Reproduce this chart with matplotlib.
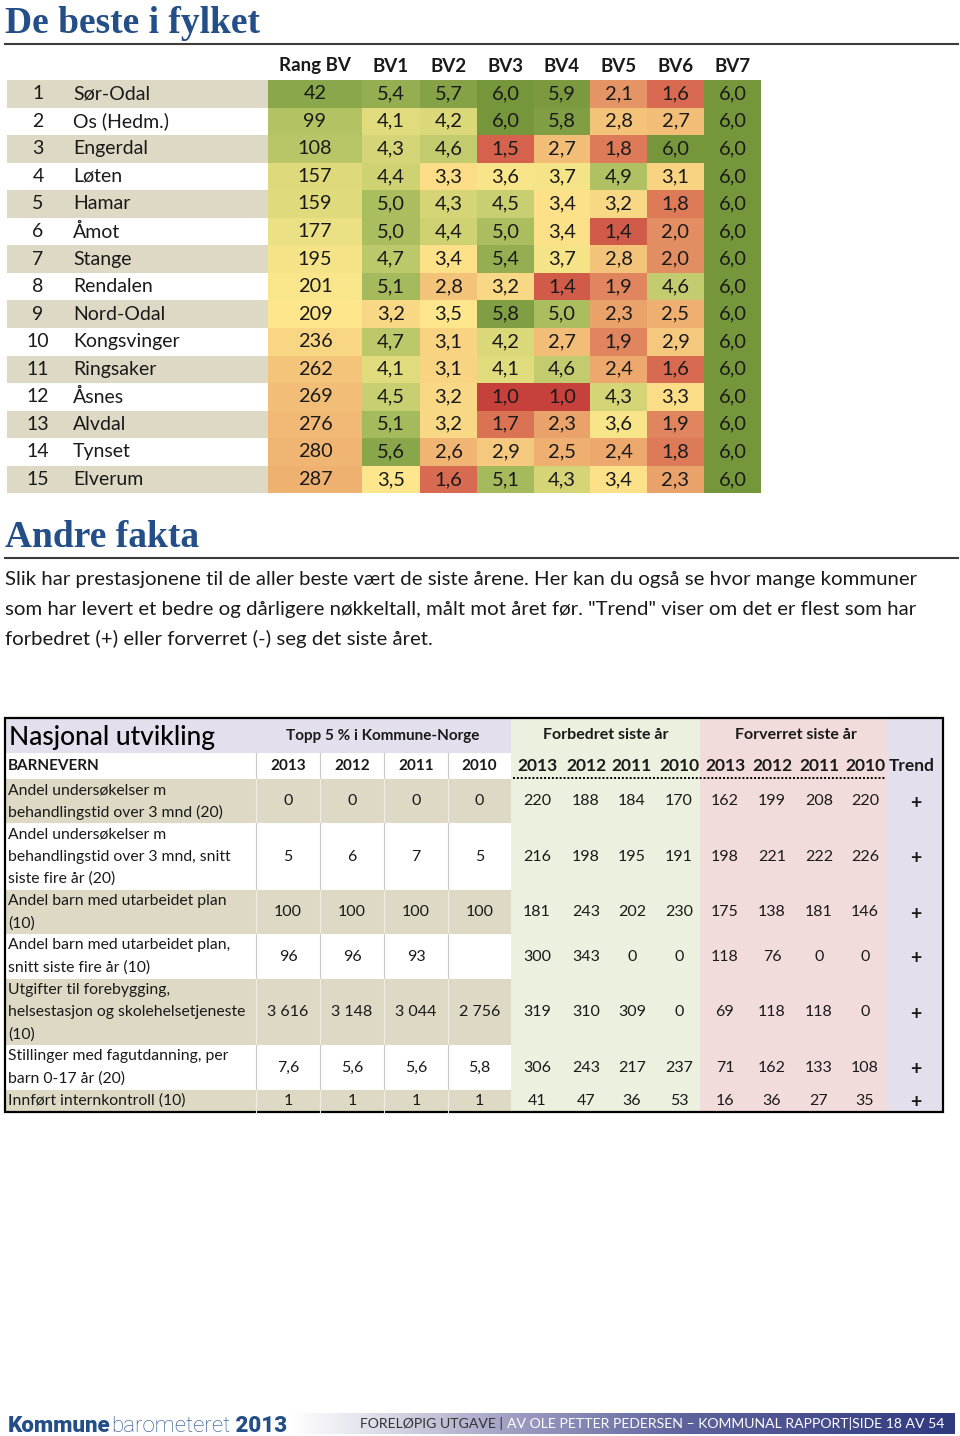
import matplotlib
matplotlib.use("Agg")
import matplotlib.pyplot as plt
from matplotlib.patches import Rectangle
from matplotlib.colors import LinearSegmentedColormap
import numpy as np

# ---------------- data ----------------
plasser = list(range(1, 16))
kommuner = ["Sør-Odal", "Os (Hedm.)", "Engerdal", "Løten", "Hamar", "Åmot", "Stange",
            "Rendalen", "Nord-Odal", "Kongsvinger", "Ringsaker", "Åsnes", "Alvdal",
            "Tynset", "Elverum"]
kolonner = ["Rang BV", "BV1", "BV2", "BV3", "BV4", "BV5", "BV6", "BV7"]
rang_bv = [42, 99, 108, 157, 159, 177, 195, 201, 209, 236, 262, 269, 276, 280, 287]
bv1 = [5.4, 4.1, 4.3, 4.4, 5.0, 5.0, 4.7, 5.1, 3.2, 4.7, 4.1, 4.5, 5.1, 5.6, 3.5]
bv2 = [5.7, 4.2, 4.6, 3.3, 4.3, 4.4, 3.4, 2.8, 3.5, 3.1, 3.1, 3.2, 3.2, 2.6, 1.6]
bv3 = [6.0, 6.0, 1.5, 3.6, 4.5, 5.0, 5.4, 3.2, 5.8, 4.2, 4.1, 1.0, 1.7, 2.9, 5.1]
bv4 = [5.9, 5.8, 2.7, 3.7, 3.4, 3.4, 3.7, 1.4, 5.0, 2.7, 4.6, 1.0, 2.3, 2.5, 4.3]
bv5 = [2.1, 2.8, 1.8, 4.9, 3.2, 1.4, 2.8, 1.9, 2.3, 1.9, 2.4, 4.3, 3.6, 2.4, 3.4]
bv6 = [1.6, 2.7, 6.0, 3.1, 1.8, 2.0, 2.0, 4.6, 2.5, 2.9, 1.6, 3.3, 1.9, 1.8, 2.3]
bv7 = [6.0, 6.0, 6.0, 6.0, 6.0, 6.0, 6.0, 6.0, 6.0, 6.0, 6.0, 6.0, 6.0, 6.0, 6.0]

intro = ["Slik har prestasjonene til de aller beste vært de siste årene. Her kan du også se hvor mange kommuner",
         "som har levert et bedre og dårligere nøkkeltall, målt mot året før. \"Trend\" viser om det er flest som har",
         "forbedret (+) eller forverret (-) seg det siste året."]

aar = ["2013", "2012", "2011", "2010"]
indikatorer = [
    ["Andel undersøkelser m", "behandlingstid over 3 mnd (20)"],
    ["Andel undersøkelser m", "behandlingstid over 3 mnd, snitt", "siste fire år (20)"],
    ["Andel barn med utarbeidet plan", "(10)"],
    ["Andel barn med utarbeidet plan,", "snitt siste fire år (10)"],
    ["Utgifter til forebygging,", "helsestasjon og skolehelsetjeneste", "(10)"],
    ["Stillinger med fagutdanning, per", "barn 0-17 år (20)"],
    ["Innført internkontroll (10)"],
]
topp5 = [["0", "0", "0", "0"], ["5", "6", "7", "5"], ["100", "100", "100", "100"],
         ["96", "96", "93", ""], ["3 616", "3 148", "3 044", "2 756"],
         ["7,6", "5,6", "5,6", "5,8"], ["1", "1", "1", "1"]]
forbedret = [[220, 188, 184, 170], [216, 198, 195, 191], [181, 243, 202, 230], [300, 343, 0, 0],
             [319, 310, 309, 0], [306, 243, 217, 237], [41, 47, 36, 53]]
forverret = [[162, 199, 208, 220], [198, 221, 222, 226], [175, 138, 181, 146], [118, 76, 0, 0],
             [69, 118, 118, 0], [71, 162, 133, 108], [16, 36, 27, 35]]
trend = ["+", "+", "+", "+", "+", "+", "+"]

# ---------------- style ----------------
SANS = ["Lato", "DejaVu Sans"]
SERIF = ["Liberation Serif", "DejaVu Serif"]
NAVY = "#234E87"
TAN = "#DDD9C4"
LAV = "#E4DFEC"
GRN = "#EBF1DE"
RED = "#F2DCDB"
TXT = "#1a1a1a"

cmap = LinearSegmentedColormap.from_list("bv", [
    (0.0, "#C6403C"), (0.1, "#D4634C"), (0.2, "#E38D62"), (0.3, "#EEB070"),
    (0.4, "#F7CF80"), (0.5, "#FDE68C"), (0.6, "#E6DE80"), (0.7, "#C9CF70"),
    (0.8, "#AABE60"), (0.9, "#90AB4E"), (1.0, "#76963C")])


def score_colour(v):
    return cmap((v - 1.0) / 5.0)


def rank_colour(r):
    # national rank: 1 best ... ~400 worst -> same scale as the scores
    return score_colour(np.clip(6.1 - 0.0125 * r, 1, 6))


fig = plt.figure(figsize=(9.6, 14.36), dpi=100)
ax = fig.add_axes([0, 0, 1, 1])
ax.set_xlim(0, 960)
ax.set_ylim(1436, 0)
ax.axis("off")

# ---------------- title 1 ----------------
ax.text(5, 33, "De beste i fylket", family=SERIF, weight="bold", size=27,
        color=NAVY, va="baseline", ha="left")
ax.plot([5, 958], [44, 44], color="#3c3c3c", lw=1.5)

# ---------------- top table ----------------
col_edges = [268, 362, 420, 477, 534, 590, 647, 704, 761]
row_top = 80.0
row_h = 27.55
for j, name in enumerate(kolonner):
    xc = (col_edges[j] + col_edges[j + 1]) / 2
    ax.text(xc, 66, name, family=SANS, weight="bold", size=13.5, color=TXT,
            ha="center", va="center")

series = [bv1, bv2, bv3, bv4, bv5, bv6, bv7]
for i, (p, k) in enumerate(zip(plasser, kommuner)):
    y0 = row_top + i * row_h
    yc = y0 + row_h / 2
    if i % 2 == 0:
        ax.add_patch(Rectangle((7, y0), 261, row_h, color=TAN, lw=0))
    ax.text(38, yc, str(p), family=SANS, size=14, color=TXT, ha="center", va="center")
    ax.text(73, yc, k, family=SANS, size=14, color=TXT, ha="left", va="center")
    # rank column
    ax.add_patch(Rectangle((col_edges[0], y0), col_edges[1] - col_edges[0], row_h,
                           color=rank_colour(rang_bv[i]), lw=0))
    ax.text((col_edges[0] + col_edges[1]) / 2, yc, str(rang_bv[i]), family=SANS,
            size=14.3, color=TXT, ha="center", va="center")
    for j, s in enumerate(series):
        x0, x1 = col_edges[j + 1], col_edges[j + 2]
        ax.add_patch(Rectangle((x0, y0), x1 - x0, row_h, color=score_colour(s[i]), lw=0))
        ax.text((x0 + x1) / 2, yc, f"{s[i]:.1f}".replace(".", ","), family=SANS,
                size=14.5, color=TXT, ha="center", va="center")

# ---------------- title 2 ----------------
ax.text(5, 547, "Andre fakta", family=SERIF, weight="bold", size=27,
        color=NAVY, va="baseline", ha="left")
ax.plot([5, 958], [558, 558], color="#3c3c3c", lw=1.5)
for i, line in enumerate(intro):
    ax.text(5, 580 + i * 29.5, line, family=SANS, size=14.7, color=TXT,
            ha="left", va="center")

# ---------------- bottom table ----------------
L, R = 5, 943
T, B = 718, 1112
H1 = 753
H2 = 779
x_split = 511
grn_x = [x_split, 700]
red_x = [700, 887]
trend_x = [887, R]

ax.add_patch(Rectangle((L, T), x_split - L, H1 - T, color=LAV, lw=0))
ax.add_patch(Rectangle((grn_x[0], T), grn_x[1] - grn_x[0], B - T, color=GRN, lw=0))
ax.add_patch(Rectangle((red_x[0], T), red_x[1] - red_x[0], B - T, color=RED, lw=0))
ax.add_patch(Rectangle((trend_x[0], T), trend_x[1] - trend_x[0], B - T, color=LAV, lw=0))

left_cols = [256, 320, 384, 448, 511]
left_centres = [(left_cols[k] + left_cols[k + 1]) / 2 for k in range(4)]
grn_centres = [537, 586, 632, 679]
red_centres = [725, 772, 819, 865]
trend_c = 916

ax.text(9, 737, "Nasjonal utvikling", family=SANS, weight="medium", size=19, color="black",
        ha="left", va="center")
ax.text(383, 736, "Topp 5 % i Kommune-Norge", family=SANS, weight="bold", size=11,
        color=TXT, ha="center", va="center")
ax.text(sum(grn_x) / 2, 735, "Forbedret siste år", family=SANS, weight="bold", size=11.5,
        color=TXT, ha="center", va="center")
ax.text(sum(red_x) / 2 + 2, 735, "Forverret siste år", family=SANS, weight="bold", size=11.5,
        color=TXT, ha="center", va="center")

ax.text(8, 766, "BARNEVERN", family=SANS, weight="bold", size=11, color=TXT,
        ha="left", va="center")
for xc, a in zip(left_centres, aar):
    ax.text(xc, 766, a, family=SANS, weight="bold", size=11, color=TXT, ha="center", va="center")
for xc, a in zip(grn_centres + red_centres, aar + aar):
    ax.text(xc, 766, a, family=SANS, weight="bold", size=12.5, color=TXT, ha="center", va="center")
ax.text(912, 766, "Trend", family=SANS, weight="bold", size=12.5, color=TXT,
        ha="center", va="center")
ax.plot([x_split + 2, 885], [777.5, 777.5], color="black", lw=1.4, ls=(0, (1, 1)))
for xv in left_cols[:-1]:
    ax.plot([xv, xv], [H1, H2], color="#C8C8C8", lw=0.8)

line_h = 22.2
y = H2
for i, lab in enumerate(indikatorer):
    h = line_h * len(lab)
    beige = (i % 2 == 0)
    if beige:
        ax.add_patch(Rectangle((L, y), x_split - L, h, color=TAN, lw=0))
    for xv in left_cols[:-1]:
        ax.plot([xv, xv], [y, y + h], color="#EEEDE6" if beige else "#C8C8C8", lw=0.8)
    for k, t in enumerate(lab):
        ax.text(8, y + line_h * (k + 0.5), t, family=SANS, size=11.3, color=TXT,
                ha="left", va="center")
    yc = y + h / 2
    for xc, v in zip(left_centres, topp5[i]):
        ax.text(xc, yc, v, family=SANS, size=11.5, color=TXT, ha="center", va="center")
    for xc, v in zip(grn_centres, forbedret[i]):
        ax.text(xc, yc, str(v), family=SANS, size=11.5, color=TXT, ha="center", va="center")
    for xc, v in zip(red_centres, forverret[i]):
        ax.text(xc, yc, str(v), family=SANS, size=11.5, color=TXT, ha="center", va="center")
    ax.text(trend_c, yc + 2, trend[i], family=SANS, weight="bold", size=14, color=TXT,
            ha="center", va="center")
    y += h

ax.add_patch(Rectangle((L, T), R - L, B - T, fill=False, edgecolor="black", lw=1.6))

# ---------------- footer ----------------
grad = LinearSegmentedColormap.from_list("foot", [
    (0.0, "#FFFFFF"), (0.1, "#E6E6EF"), (0.35, "#9A9AC0"), (0.6, "#5E629C"), (1.0, "#2F3A7E")])
ax.imshow(np.linspace(0, 1, 256)[None, :], cmap=grad, aspect="auto",
          extent=(290, 955, 1434, 1413), zorder=0)
ax.set_xlim(0, 960)
ax.set_ylim(1436, 0)

t1 = ax.text(8, 1432, "Kommune", family=["Roboto", "DejaVu Sans"], weight="heavy", size=16,
             color=NAVY, ha="left", va="baseline")
t2 = ax.annotate("barometeret", xy=(1, 0), xycoords=t1, family=["Roboto", "DejaVu Sans"],
                 weight="light", size=16, color=NAVY, ha="left", va="bottom")
t3 = ax.annotate(" 2013", xy=(1, 0), xycoords=t2, family=["Roboto", "DejaVu Sans"],
                 weight="heavy", size=16, color=NAVY, ha="left", va="bottom")

f1 = ax.text(360, 1424, "FORELØPIG UTGAVE | ", family=SANS, size=10.1, color="#333333",
             ha="left", va="center")
ax.annotate("AV OLE PETTER PEDERSEN – KOMMUNAL RAPPORT|SIDE 18 AV 54", xy=(1, 0.5),
            xycoords=f1, family=SANS, size=10.1, color="white", ha="left", va="center")

fig.savefig("out.png", dpi=100)
